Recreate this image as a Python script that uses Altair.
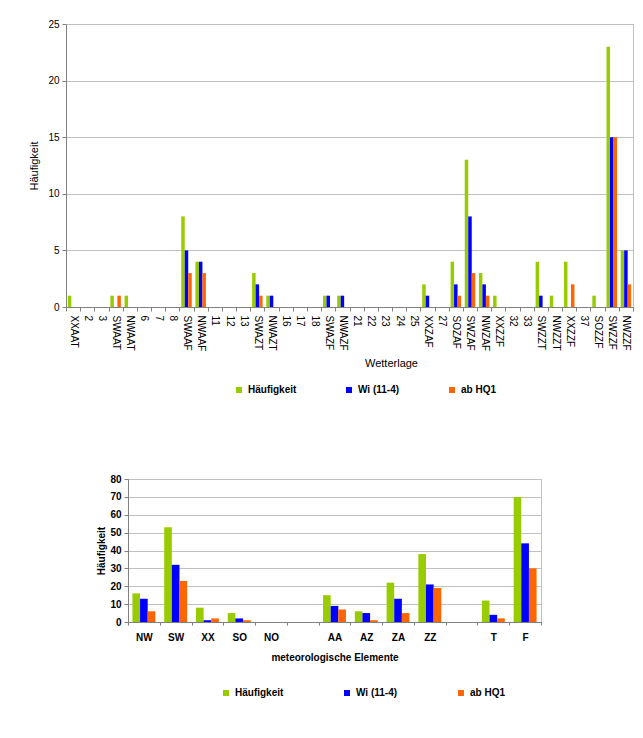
import json
import altair as alt
import pandas as pd

series = ["Häufigkeit", "Wi (11-4)", "ab HQ1"]
colors = ["#99CC00", "#0000FF", "#FF6600"]

top_labels = ["XXAAT", "2", "3", "SWAAT", "NWAAT", "6", "7", "8", "SWAAF", "NWAAF",
              "11", "12", "13", "SWAZT", "NWAZT", "16", "17", "18", "SWAZF", "NWAZF",
              "21", "22", "23", "24", "25", "XXZAF", "27", "SOZAF", "SWZAF", "NWZAF",
              "XXZZF", "32", "33", "SWZZT", "NWZZT", "XXZZF", "37", "SOZZF", "SWZZF", "NWZZF"]
top_haeuf = [1, 0, 0, 1, 1, 0, 0, 0, 8, 4, 0, 0, 0, 3, 1, 0, 0, 0, 1, 1,
             0, 0, 0, 0, 0, 2, 0, 4, 13, 3, 1, 0, 0, 4, 1, 4, 0, 1, 23, 5]
top_wi = [0, 0, 0, 0, 0, 0, 0, 0, 5, 4, 0, 0, 0, 2, 1, 0, 0, 0, 1, 1,
          0, 0, 0, 0, 0, 1, 0, 2, 8, 2, 0, 0, 0, 1, 0, 0, 0, 0, 15, 5]
top_hq = [0, 0, 0, 1, 0, 0, 0, 0, 3, 3, 0, 0, 0, 1, 0, 0, 0, 0, 0, 0,
          0, 0, 0, 0, 0, 0, 0, 1, 3, 1, 0, 0, 0, 0, 0, 2, 0, 0, 15, 2]

bot_labels = ["NW", "SW", "XX", "SO", "NO", "", "AA", "AZ", "ZA", "ZZ", "", "T", "F"]
bot_haeuf = [16, 53, 8, 5, 0, 0, 15, 6, 22, 38, 0, 12, 70]
bot_wi = [13, 32, 1, 2, 0, 0, 9, 5, 13, 21, 0, 4, 44]
bot_hq = [6, 23, 2, 1, 0, 0, 7, 1, 5, 19, 0, 2, 30]


def make_df(labels, lists):
    rows = []
    for i in range(len(labels)):
        for s, vals in zip(series, lists):
            rows.append({"idx": i, "serie": s, "wert": vals[i]})
    return pd.DataFrame(rows)


top_df = make_df(top_labels, [top_haeuf, top_wi, top_hq])
bot_df = make_df(bot_labels, [bot_haeuf, bot_wi, bot_hq])

FONT = "Liberation Sans"
GRID = "#c0c0c0"
AX = "#808080"

top = alt.Chart(top_df).mark_bar().encode(
    x=alt.X("idx:O", scale=alt.Scale(paddingInner=0, paddingOuter=0),
            axis=alt.Axis(title="Wetterlage", labelExpr=json.dumps(top_labels) + "[datum.value]",
                          labelAngle=90, labelAlign="left", labelBaseline="middle",
                          labelPadding=4, tickBand="extent", tickSize=4,
                          domainColor=AX, tickColor=AX, labelFont=FONT, labelFontSize=10,
                          labelColor="#000000", titleFont=FONT, titleFontSize=11,
                          titleFontWeight="normal", titleColor="#000000",
                          titleX=325, titleY=56, titleBaseline="middle", titleAlign="center")),
    xOffset=alt.XOffset("serie:N", sort=series, scale=alt.Scale(paddingOuter=0.53, paddingInner=0)),
    y=alt.Y("wert:Q", scale=alt.Scale(domain=[0, 25]),
            axis=alt.Axis(title="Häufigkeit", values=[0, 5, 10, 15, 20, 25], tickSize=4,
                          domainColor=AX, tickColor=AX, gridColor=GRID, labelFont=FONT,
                          labelFontSize=10, labelColor="#000000", labelPadding=3,
                          titleFont=FONT, titleFontSize=11, titleFontWeight="normal",
                          titleColor="#000000", titleX=-32, titleY=141.5,
                          titleBaseline="middle", titleAlign="center")),
    color=alt.Color("serie:N", sort=series, scale=alt.Scale(domain=series, range=colors),
                    legend=alt.Legend(orient="none", legendX=168, legendY=361,
                                      direction="horizontal", title=None, symbolType="square",
                                      symbolSize=36, symbolStrokeWidth=0, labelOffset=4,
                                      columnPadding=47, labelFont=FONT, labelFontSize=10,
                                      labelFontWeight="bold", labelColor="#000000")),
).properties(width=567, height=283)

bottom = alt.Chart(bot_df).mark_bar().encode(
    x=alt.X("idx:O", scale=alt.Scale(paddingInner=0, paddingOuter=0),
            axis=alt.Axis(title="meteorologische Elemente",
                          labelExpr=json.dumps(bot_labels) + "[datum.value]",
                          labelAngle=0, labelAlign="center", labelBaseline="top",
                          labelPadding=7, tickBand="extent", tickSize=3,
                          domainColor=AX, tickColor=AX, labelFont=FONT, labelFontSize=10,
                          labelFontWeight="bold", labelColor="#000000", titleFont=FONT,
                          titleFontSize=10, titleFontWeight="bold", titleColor="#000000",
                          titleY=35, titleBaseline="middle")),
    xOffset=alt.XOffset("serie:N", sort=series, scale=alt.Scale(paddingOuter=0.58, paddingInner=0)),
    y=alt.Y("wert:Q", scale=alt.Scale(domain=[0, 80]),
            axis=alt.Axis(title="Häufigkeit", values=[0, 10, 20, 30, 40, 50, 60, 70, 80],
                          tickSize=4, domainColor=AX, tickColor=AX, gridColor=GRID,
                          labelFont=FONT, labelFontSize=10, labelFontWeight="bold",
                          labelColor="#000000", labelPadding=3, titleFont=FONT,
                          titleFontSize=10, titleFontWeight="bold", titleColor="#000000",
                          titleX=-27, titleY=71.5, titleBaseline="middle", titleAlign="center")),
    color=alt.Color("serie:N", sort=series, scale=alt.Scale(domain=series, range=colors),
                    legend=alt.Legend(orient="none", legendX=93, legendY=209,
                                      direction="horizontal", title=None, symbolType="square",
                                      symbolSize=36, symbolStrokeWidth=0, labelOffset=4,
                                      columnPadding=58, labelFont=FONT, labelFontSize=10,
                                      labelFontWeight="bold", labelColor="#000000")),
).properties(width=413, height=143)

spacer = alt.Chart(pd.DataFrame({"a": [0]})).mark_point(opacity=0).encode(
    x=alt.value(0), y=alt.value(0)
).properties(width=62, height=1, view=alt.ViewBackground(strokeOpacity=0))

row2 = alt.hconcat(spacer, bottom, spacing=0, bounds="flush").resolve_scale(
    x="independent", y="independent", xOffset="independent", color="independent"
)

chart = alt.vconcat(top, row2, spacing=172, bounds="flush").resolve_scale(
    x="independent", y="independent", xOffset="independent", color="independent"
).properties(
    padding={"left": 27, "top": 18, "right": 5, "bottom": 5},
    background="white",
).configure(font=FONT).configure_view(stroke=GRID)

chart.save("out.html", embed_options={"renderer": "svg", "actions": False})
